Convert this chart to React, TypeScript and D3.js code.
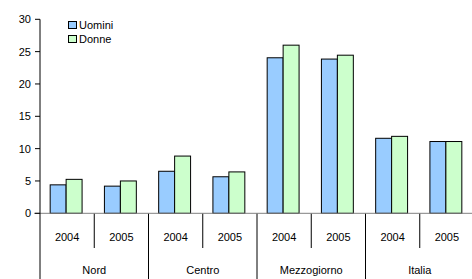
import * as d3 from "d3";

const GROUPS = ["Nord", "Centro", "Mezzogiorno", "Italia"];
const YEARS = ["2004", "2005"];
const SERIES = ["Uomini", "Donne"];
const UOMINI = [4.4, 4.2, 6.5, 5.65, 24.05, 23.85, 11.6, 11.1];
const DONNE = [5.25, 5.0, 8.85, 6.4, 26.0, 24.45, 11.9, 11.1];
const Y_TICKS = [0, 5, 10, 15, 20, 25, 30];
const COLORS = ["#99ccff", "#ccffcc"];

const W = 472;
const H = 279;
const left = 40;
const right = 474;
const top = 19.3;
const bottom = 213.3;

export default function App() {
  const slots = GROUPS.flatMap((g) => YEARS.map((y) => `${g}-${y}`));
  const x = d3.scaleBand().domain(slots).range([left, right]).paddingInner(0).paddingOuter(0);
  // bars are ~16px wide, centred a bit left in each slot
  const inner = d3.scaleBand().domain(SERIES).range([-1, x.bandwidth() - 1]).paddingOuter(0.7).paddingInner(0);
  const y = d3.scaleLinear().domain([0, 30]).range([bottom, top]);
  const values = [UOMINI, DONNE];
  const groupW = x.bandwidth() * YEARS.length;
  const font = "Arial, 'Liberation Sans', sans-serif";

  return (
    <svg
      width={W}
      height={H}
      style={{ position: "absolute", left: 0, top: 0, fontFamily: font }}
    >
      <rect width={W} height={H} fill="#fff" />
      {slots.map((s, i) => (
        <g key={s}>
          {values.map((vals, k) => (
            <rect
              key={k}
              x={(x(s) ?? 0) + (inner(SERIES[k]) ?? 0)}
              y={y(vals[i])}
              width={inner.bandwidth()}
              height={y(0) - y(vals[i])}
              fill={COLORS[k]}
              stroke="#000"
              strokeWidth={1}
            />
          ))}
          <text
            x={(x(s) ?? 0) + x.bandwidth() / 2}
            y={241}
            textAnchor="middle"
            fontSize={11}
            fill="#000"
          >
            {YEARS[i % YEARS.length]}
          </text>
          {i % 2 === 1 && (
            <line
              x1={x(s) ?? 0}
              x2={x(s) ?? 0}
              y1={bottom}
              y2={248}
              stroke="#000"
            />
          )}
        </g>
      ))}
      {GROUPS.map((g, gi) => {
        const gx = left + gi * groupW;
        return (
          <g key={g}>
            {gi > 0 && <line x1={gx} x2={gx} y1={bottom} y2={H} stroke="#000" />}
            <text x={gx + groupW / 2} y={274} textAnchor="middle" fontSize={11} fill="#000">
              {g}
            </text>
          </g>
        );
      })}
      <line x1={34} x2={right} y1={bottom} y2={bottom} stroke="#808080" />
      <line x1={left} x2={left} y1={top} y2={H} stroke="#000" />
      {Y_TICKS.map((t) => (
        <g key={t}>
          <line x1={35} x2={left} y1={y(t)} y2={y(t)} stroke="#000" />
          <text x={31} y={y(t) + 4} textAnchor="end" fontSize={11} fill="#000">
            {t}
          </text>
        </g>
      ))}
      {SERIES.map((s, k) => (
        <g key={s} transform={`translate(68, ${21 + k * 14})`}>
          <rect x={0.5} y={0.5} width={8} height={7} fill={COLORS[k]} stroke="#000" />
          <text x={11} y={7.5} fontSize={11} fill="#000">
            {s}
          </text>
        </g>
      ))}
    </svg>
  );
}
